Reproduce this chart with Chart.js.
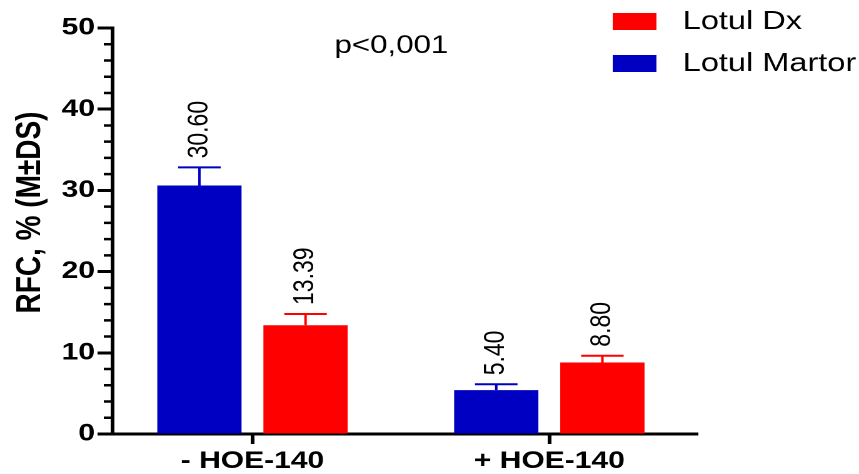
<!DOCTYPE html>
<html>
<head>
<meta charset="utf-8">
<script src="https://cdn.jsdelivr.net/npm/chart.js@4"></script>
<style>
  html, body { margin: 0; padding: 0; background: #fff; }
  #wrap { width: 859px; height: 474px; overflow: hidden; }
  /* the source figure is stretched sideways, so the canvas is too */
  #c { width: 687px; height: 474px; transform: scaleX(1.2504); transform-origin: 0 0; }
</style>
</head>
<body>
<div id="wrap"><canvas id="c" width="687" height="474"></canvas></div>
<script>
    // date
    const categories = ['- HOE-140', '+ HOE-140'];
    const martorValues = [30.60, 5.40];
    const martorSD = [2.23, 0.72];
    const dxValues = [13.39, 8.80];
    const dxSD = [1.39, 0.84];
    const yTicks = [0, 10, 20, 30, 40, 50];
    const yMinorTicks = [2, 4, 6, 8, 12, 14, 16, 18, 22, 24, 26, 28, 32, 34, 36, 38, 42, 44, 46, 48];

    const fontFam = '"Liberation Sans", Arial, sans-serif';
    Chart.defaults.font.family = fontFam;
    Chart.defaults.color = '#000';

    const blue = '#0000c2';
    const red = '#ff0000';

    // bare de eroare, etichete, legenda
    const extras = {
        id: 'extras',
        afterDatasetsDraw(chart) {
            const ctx = chart.ctx;
            const y = chart.scales.y;
            chart.data.datasets.forEach((ds, i) => {
                chart.getDatasetMeta(i).data.forEach((bar, j) => {
                    const top = y.getPixelForValue(ds.vals[j] + ds.sd[j]);
                    ctx.save();
                    ctx.strokeStyle = ds.backgroundColor;
                    ctx.lineWidth = 2;
                    ctx.beginPath();
                    ctx.moveTo(bar.x, bar.y);
                    ctx.lineTo(bar.x, top);
                    ctx.moveTo(bar.x - 17, top);
                    ctx.lineTo(bar.x + 17, top);
                    ctx.stroke();
                    ctx.translate(bar.x, top - 9);
                    ctx.rotate(-Math.PI / 2);
                    ctx.fillStyle = '#000';
                    ctx.font = '23px ' + fontFam;
                    ctx.textAlign = 'left';
                    ctx.textBaseline = 'middle';
                    ctx.fillText(ds.vals[j].toFixed(2), 0, 0);
                    ctx.restore();
                });
            });
        },
        afterDraw(chart) {
            const ctx = chart.ctx;
            const y = chart.scales.y;
            const ax = chart.chartArea.left;
            ctx.save();
            // minor ticks
            ctx.strokeStyle = '#000';
            ctx.lineWidth = 2.5;
            ctx.beginPath();
            yMinorTicks.forEach(v => {
                const py = y.getPixelForValue(v);
                ctx.moveTo(ax - 7, py);
                ctx.lineTo(ax, py);
            });
            ctx.stroke();

            // titlu axa y
            ctx.save();
            ctx.translate(24.5, 212.5);
            ctx.rotate(-Math.PI / 2);
            ctx.fillStyle = '#000';
            ctx.font = 'bold 28px ' + fontFam;
            ctx.textAlign = 'center';
            ctx.textBaseline = 'middle';
            ctx.fillText('RFC, % (M±DS)', 0, 0);
            ctx.restore();

            // p value
            ctx.fillStyle = '#000';
            ctx.font = '25px ' + fontFam;
            ctx.textAlign = 'center';
            ctx.textBaseline = 'alphabetic';
            ctx.fillText('p<0,001', 313, 53);

            // legend (Dx sus, Martor jos)
            const items = [
                { label: 'Lotul Dx', color: red, y: 13 },
                { label: 'Lotul Martor', color: blue, y: 55 }
            ];
            ctx.font = '26px ' + fontFam;
            ctx.textAlign = 'left';
            ctx.textBaseline = 'middle';
            items.forEach(it => {
                ctx.fillStyle = it.color;
                ctx.fillRect(490, it.y, 35, 17);
                ctx.fillStyle = '#000';
                ctx.fillText(it.label, 546, it.y + 9);
            });
            ctx.restore();
        }
    };

    const ctx = document.getElementById('c').getContext('2d');
    const chart = new Chart(ctx, {
        type: 'bar',
        data: {
            datasets: [
                {
                    label: 'Lotul Martor',
                    data: martorValues.map((v, i) => ({ x: i, y: v })),
                    vals: martorValues,
                    sd: martorSD,
                    backgroundColor: blue,
                    borderWidth: 0
                },
                {
                    label: 'Lotul Dx',
                    data: dxValues.map((v, i) => ({ x: i, y: v })),
                    vals: dxValues,
                    sd: dxSD,
                    backgroundColor: red,
                    borderWidth: 0
                }
            ]
        },
        options: {
            responsive: false,
            animation: false,
            devicePixelRatio: 2,
            categoryPercentage: 0.715,
            barPercentage: 0.794,
            layout: {
                padding: { top: 28, right: 129, left: 0, bottom: 0 }
            },
            plugins: {
                legend: { display: false },
                tooltip: { enabled: false }
            },
            scales: {
                x: {
                    type: 'linear',
                    min: -0.4714,
                    max: 1.5,
                    offset: false,
                    afterBuildTicks(scale) {
                        scale.ticks = categories.map((c, i) => ({ value: i }));
                    },
                    grid: {
                        offset: false,
                        drawOnChartArea: false,
                        tickLength: 10,
                        tickWidth: 3,
                        color: '#000'
                    },
                    border: { width: 3, color: '#000' },
                    ticks: {
                        padding: 3,
                        font: { size: 24, weight: 'bold' },
                        maxRotation: 0,
                        callback: v => categories[v]
                    },
                    afterFit(scale) { scale.height = 40; }
                },
                y: {
                    min: 0,
                    max: 50,
                    afterBuildTicks(scale) {
                        scale.ticks = yTicks.map(v => ({ value: v }));
                    },
                    grid: {
                        drawOnChartArea: false,
                        tickLength: 12,
                        tickWidth: 3,
                        color: '#000'
                    },
                    border: { width: 3, color: '#000' },
                    ticks: {
                        padding: 2,
                        font: { size: 24, weight: 'bold' }
                    },
                    afterFit(scale) { scale.width = 90; }
                }
            }
        },
        plugins: [extras]
    });
</script>
</body>
</html>
